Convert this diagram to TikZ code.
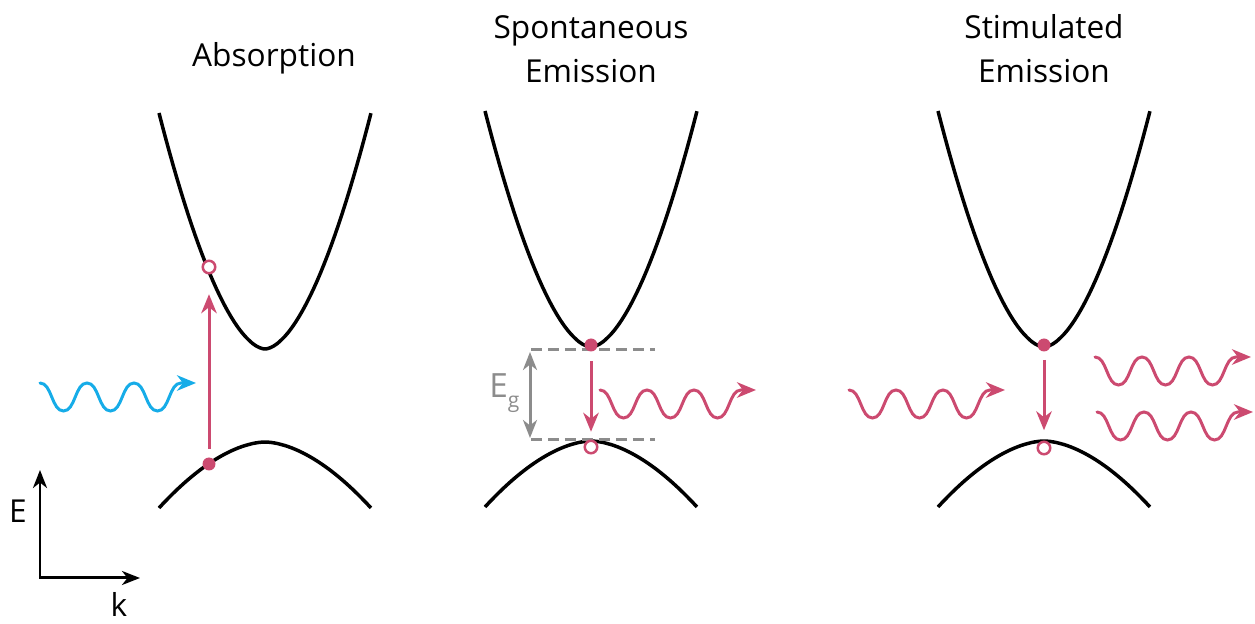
\documentclass[tikz,border=0pt]{standalone}
\usepackage{fontspec}
\setmainfont{Open Sans}
\usetikzlibrary{
  arrows.meta,
  positioning,
  calc
}
\definecolor{photonpink}{RGB}{204,74,112}
\definecolor{photonblue}{RGB}{22,172,232}
\definecolor{gapgray}{RGB}{140,140,140}
\tikzset{
  band/.style={line width=0.07cm,draw=black},
  labeltext/.style={
    inner sep=0pt,
    align=center,
    font=\fontsize{18}{25.5}\selectfont
  },
  electron/.style={circle,fill=photonpink,inner sep=0pt,outer sep=0pt,minimum size=0.26cm},
  hole/.style={circle,draw=photonpink,fill=white,line width=0.05cm,inner sep=0pt,outer sep=0pt,minimum size=0.25cm},
  tip/.style={Stealth[length=3.8mm,width=3.1mm,inset=1.2mm]},
  transarrow/.style={-{Stealth[length=3.8mm,width=3.1mm,inset=1.2mm]},line width=0.06cm,draw=photonpink},
  photon/.style={-{Stealth[length=3.8mm,width=3.1mm,inset=1.2mm]},line width=0.06cm,line cap=round},
  gaparrow/.style={{Stealth[length=3.6mm,width=2.8mm,inset=1.1mm]}-{Stealth[length=3.6mm,width=2.8mm,inset=1.1mm]},line width=0.06cm,draw=gapgray},
  gapline/.style={line width=0.06cm,draw=gapgray,dash pattern=on 0.22cm off 0.12cm},
  axisarrow/.style={{Stealth[length=3.6mm,width=2.8mm,inset=1.1mm]}-{Stealth[length=3.6mm,width=2.8mm,inset=1.1mm]},line width=0.06cm,draw=black}
}
% wavy photon: colour, start coordinate (a crest)
\newcommand{\halfdown}{.. controls +(12,0) and +(-12,0) .. ++(23.5,28)}
\newcommand{\halfup}{.. controls +(12,0) and +(-12,0) .. ++(23.5,-28)}
\newcommand{\photon}[2]{%
  \draw[photon,draw=#1] (#2)
    \halfdown \halfup \halfdown \halfup \halfdown \halfup
    -- ++(15,0);}

\begin{document}
\begin{tikzpicture}[x=0.02cm,y=-0.02cm]
  \useasboundingbox (0,0) rectangle (1255,624);
  % conduction and valence bands
  \foreach \p/\cx/\cc/\cv in {1/265/349/442,2/591/347/441,3/1044/347/441}{
    \coordinate (cb\p) at (\cx,\cc);
    \coordinate (vb\p) at (\cx,\cv);
    \draw[band] plot[domain=-1:1,samples=60] ({\cx+106*\x},{\cc-236*abs(\x)^1.75});
    \draw[band] plot[domain=-1:1,samples=60] ({\cx+106*\x},{\cv+66*abs(\x)^1.75});
  }
  % titles
  \node[labeltext,anchor=base] (absorb) at (274,67) {Absorption};
  \node[labeltext,anchor=base] (spont) at (591,83) {Spontaneous\\Emission};
  \node[labeltext,anchor=base] (stim) at (1044,83) {Stimulated\\Emission};
  % E-k axes
  \coordinate (origin) at (40,578);
  \coordinate (etip) at (40,470);
  \coordinate (ktip) at (140,578);
  \draw[axisarrow] (etip) -- (origin) -- (ktip);
  \node[labeltext,anchor=base] (elabel) at (18,523) {E};
  \node[labeltext,anchor=base] (klabel) at (119,617) {k};
  % band gap
  \coordinate (gapa) at (531,350);
  \coordinate (gapb) at (655,350);
  \coordinate (gapc) at (531,440);
  \coordinate (gapd) at (655,440);
  \draw[gapline] (gapa) -- (gapb);
  \draw[gapline] (gapc) -- (gapd);
  \coordinate (gtop) at (530,352);
  \coordinate (gbot) at (530,438);
  \draw[gaparrow] (gtop) -- (gbot);
  \node[labeltext,text=gapgray,anchor=base west,font=\fontsize{19}{19}\selectfont] (eglabel) at (489,398)
    {E\raisebox{-0.2cm}{\fontsize{12}{12}\selectfont g}};
  % carriers
  \node[electron] (e1) at (209,464) {};
  \node[hole] (h1) at (209,267) {};
  \node[electron] (e2) at (591,345) {};
  \node[hole] (h2) at (591,447) {};
  \node[electron] (e3) at (1044,345) {};
  \node[hole] (h3) at (1044,448) {};
  \draw[transarrow,shorten <=0.18cm,shorten >=0.42cm] (e1) -- (h1);
  \draw[transarrow,shorten <=0.2cm,shorten >=0.18cm] (e2) -- (h2);
  \draw[transarrow,shorten <=0.17cm,shorten >=0.23cm] (e3) -- (h3);
  % photons
  \coordinate (pin1) at (40,383);
  \coordinate (pout2) at (600,390);
  \coordinate (pin3) at (849,390);
  \coordinate (pouta) at (1095,357);
  \coordinate (poutb) at (1097,412);
  \photon{photonblue}{pin1}
  \photon{photonpink}{pout2}
  \photon{photonpink}{pin3}
  \photon{photonpink}{pouta}
  \photon{photonpink}{poutb}
\end{tikzpicture}
\end{document}
